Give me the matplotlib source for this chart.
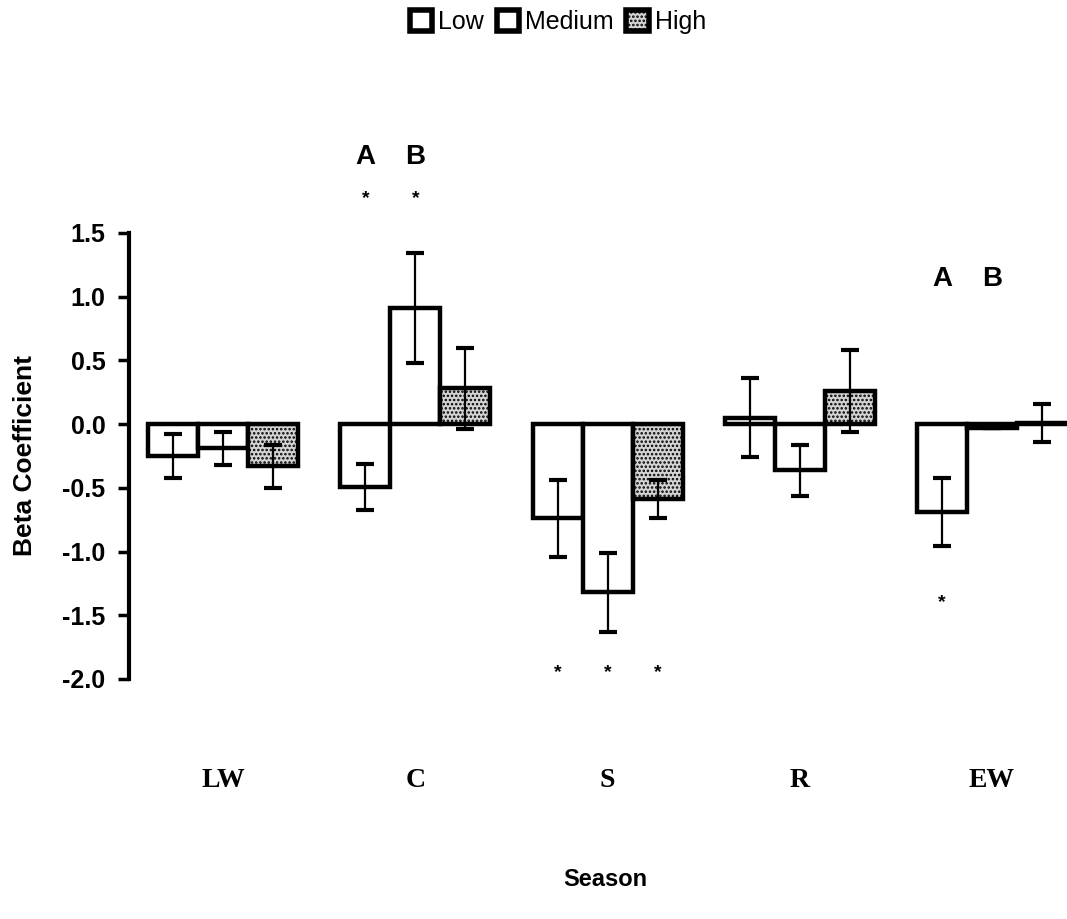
import matplotlib
matplotlib.use("Agg")
import matplotlib.pyplot as plt
from matplotlib.patches import Patch
import numpy as np

seasons = ["LW", "C", "S", "R", "EW"]
series = ["Low", "Medium", "High"]
low_vals = [-0.25, -0.49, -0.74, 0.05, -0.69]
low_err = [0.17, 0.18, 0.30, 0.31, 0.27]
med_vals = [-0.19, 0.91, -1.32, -0.36, -0.03]
med_err = [0.13, 0.43, 0.31, 0.20, 0.0]
high_vals = [-0.33, 0.28, -0.59, 0.26, 0.01]
high_err = [0.17, 0.32, 0.15, 0.32, 0.15]

# significance asterisks: (season index, series index, y value)
star_season = [1, 1, 2, 2, 2, 4]
star_series = [0, 1, 0, 1, 2, 0]
star_y = [1.77, 1.77, -1.95, -1.95, -1.95, -1.40]

# letter annotations: (season index, series index, letter, y)
ab_season = [1, 1, 4, 4]
ab_series = [0, 1, 0, 1]
ab_text = ["A", "B", "A", "B"]
ab_y = [2.1, 2.1, 1.14, 1.14]

plt.rcParams['hatch.linewidth'] = 1.2

fig = plt.figure(figsize=(10.67, 9.19), dpi=100)
ax = fig.add_axes([129/1067, (919-679)/919, 1 - 129/1067, (679-233)/919])

x = np.arange(len(seasons))
w = 0.26
vals = [low_vals, med_vals, high_vals]
errs = [low_err, med_err, high_err]
faces = ["white", "white", "#d4d4d4"]
hatches = [None, None, "...."]
for i in range(3):
    xs = x + (i - 1) * w
    ax.bar(xs, vals[i], width=w, facecolor=faces[i], edgecolor="black",
           linewidth=3.2, hatch=hatches[i], zorder=2)
    ax.errorbar(xs, vals[i], yerr=errs[i], fmt="none", ecolor="black",
                elinewidth=1.6, capsize=6.5, capthick=3, zorder=3)

for s, k, yv in zip(star_season, star_series, star_y):
    ax.text(x[s] + (k - 1) * w, yv, "*", ha="center", va="center",
            fontsize=14, fontweight="bold", clip_on=False,
            family="Liberation Sans")

for s, k, t, yv in zip(ab_season, ab_series, ab_text, ab_y):
    ax.text(x[s] + (k - 1) * w, yv, t, ha="center", va="center",
            fontsize=20, fontweight="bold", clip_on=False,
            family="Liberation Sans")

ax.set_ylim(-2.0, 1.5)
ax.set_xlim(-0.49, 4.39)
ax.set_yticks([1.5, 1.0, 0.5, 0.0, -0.5, -1.0, -1.5, -2.0])
ax.set_yticklabels(["1.5", "1.0", "0.5", "0.0", "-0.5", "-1.0", "-1.5", "-2.0"],
                   fontsize=18, fontweight="bold", family="Liberation Sans")
ax.tick_params(axis="y", direction="out", length=8, width=2.5, pad=9)
for sp in ["top", "right", "bottom"]:
    ax.spines[sp].set_visible(False)
ax.spines["left"].set_linewidth(3)

ax.set_xticks(x)
ax.set_xticklabels(seasons, fontsize=20, fontweight="bold", family="Liberation Serif")
ax.tick_params(axis="x", length=0, pad=64)

ax.set_ylabel("Beta Coefficient", fontsize=19, fontweight="bold",
              family="Liberation Sans", labelpad=18)
fig.text(605/1067, 1 - 880/919, "Season", ha="center", va="center",
         fontsize=17, fontweight="bold", family="Liberation Sans")

handles = [Patch(facecolor=faces[i], edgecolor="black", linewidth=4, hatch=hatches[i])
           for i in range(3)]
fig.legend(handles, series, loc="center", bbox_to_anchor=(558/1067, 1 - 22/919),
           ncol=3, frameon=False, handlelength=0.9, handleheight=0.9,
           handletextpad=0.25, columnspacing=0.5,
           prop={"family": "Liberation Sans", "size": 18})

fig.savefig("out.png", dpi=100)
